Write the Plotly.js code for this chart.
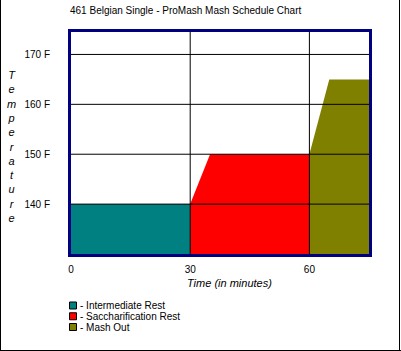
<!DOCTYPE html>
<html><head><meta charset="utf-8">
<script src="https://cdn.plot.ly/plotly-3.0.1.min.js"></script>
<style>html,body{margin:0;padding:0;background:#fff}</style>
</head><body>
<div id="chart" style="width:401px;height:351px"></div>
<script>
// ---- data ----
const stepNames = ['Intermediate Rest', 'Saccharification Rest', 'Mash Out'];
const stepColors = ['#008080', '#FF0000', '#808000'];
const interTime = [0, 30];
const interTemp = [140, 140];
const saccTime = [30, 35, 60];
const saccTemp = [140, 150, 150];
const mashTime = [60, 65, 75];
const mashTemp = [150, 165, 165];
const xTickVals = [0, 30, 60];
const yTickVals = [140, 150, 160, 170];
const yTickText = yTickVals.map(v => v + ' F');
const chartTitle = '461 Belgian Single - ProMash Mash Schedule Chart';
const xTitle = 'Time (in minutes)';
const yTitle = 'Temperature';

// ---- layout helpers ----
const W = 401, H = 351;
const M = {l: 71, r: 32, t: 32, b: 97};
const pw = W - M.l - M.r, ph = H - M.t - M.b;
const px = x => (x - M.l) / pw;          // pixel -> paper x
const py = y => (H - M.b - y) / ph;      // pixel -> paper y
const xRange = [0, 75], yRange = [130, 174.5];
const FONT = 'Liberation Sans, Arial, sans-serif';

const series = [[interTime, interTemp], [saccTime, saccTemp], [mashTime, mashTemp]];
const traces = series.map((s, i) => ({
  type: 'scatter', mode: 'lines', x: s[0], y: s[1], name: stepNames[i],
  fill: 'tozeroy', fillcolor: stepColors[i],
  line: {color: stepColors[i], width: 0}, hoverinfo: 'skip', showlegend: false
}));

const shapes = [];
// grid lines drawn above the fills
yTickVals.forEach(v => shapes.push({type: 'line', layer: 'above', xref: 'paper', yref: 'y',
  x0: 0, x1: 1, y0: v, y1: v, line: {color: '#000', width: 1}}));
xTickVals.filter(v => v > xRange[0]).forEach(v => shapes.push({type: 'line', layer: 'above',
  xref: 'x', yref: 'paper', x0: v, x1: v, y0: 0, y1: 1, line: {color: '#000', width: 1}}));
// outer frame (left, right, bottom)
shapes.push({type: 'line', xref: 'paper', yref: 'paper', x0: px(0.5), x1: px(0.5), y0: py(0), y1: py(351), line: {color: '#000', width: 1}});
shapes.push({type: 'line', xref: 'paper', yref: 'paper', x0: px(399.5), x1: px(399.5), y0: py(0), y1: py(351), line: {color: '#000', width: 1}});
shapes.push({type: 'line', xref: 'paper', yref: 'paper', x0: px(0), x1: px(401), y0: py(350.5), y1: py(350.5), line: {color: '#000', width: 1}});

const annotations = [];
// legend swatches and labels
const legRow0 = 305.5, legStep = 10.75;
stepNames.forEach((n, i) => {
  const cy = legRow0 + i * legStep;
  shapes.push({type: 'rect', xref: 'paper', yref: 'paper', x0: px(69.5), x1: px(76.5),
    y0: py(cy + 3.5), y1: py(cy - 3.5), fillcolor: stepColors[i], line: {color: '#000', width: 1}});
  annotations.push({xref: 'paper', yref: 'paper', x: px(78), y: py(cy), xanchor: 'left', yanchor: 'middle',
    text: '- ' + n, showarrow: false, font: {family: FONT, size: 10, color: '#000'}});
});
// axis titles
annotations.push({xref: 'paper', yref: 'paper', x: px(229), y: py(283), xanchor: 'center', yanchor: 'middle',
  text: '<i>' + xTitle + '</i>', showarrow: false, font: {family: FONT, size: 11, color: '#000'}});
annotations.push({xref: 'paper', yref: 'paper', x: px(11), y: py(146), xanchor: 'center', yanchor: 'middle',
  text: '<i>' + yTitle.split('').join('<br>') + '</i>', showarrow: false,
  font: {family: FONT, size: 11, color: '#000'}});

const layout = {
  width: W, height: H, margin: M, paper_bgcolor: '#fff', plot_bgcolor: '#fff',
  showlegend: false,
  title: {text: chartTitle, x: 70 / W, xanchor: 'left', xref: 'container', y: 1 - 10 / H, yref: 'container', yanchor: 'middle',
    font: {family: FONT, size: 10, color: '#000'}},
  xaxis: {range: xRange, tickvals: xTickVals, ticktext: xTickVals.map(String), showgrid: false, zeroline: false,
    showline: true, mirror: true, linecolor: '#000080', linewidth: 3, ticks: '', ticklabelstandoff: 4,
    tickfont: {family: FONT, size: 10, color: '#000'}, fixedrange: true},
  yaxis: {range: yRange, tickvals: yTickVals, ticktext: yTickText, showgrid: false, zeroline: false,
    showline: true, mirror: true, linecolor: '#000080', linewidth: 3, ticks: '', ticklabelstandoff: 16,
    tickfont: {family: FONT, size: 10, color: '#000'}, fixedrange: true},
  shapes: shapes, annotations: annotations
};
Plotly.newPlot('chart', traces, layout, {displayModeBar: false, staticPlot: true});
</script>
</body></html>
